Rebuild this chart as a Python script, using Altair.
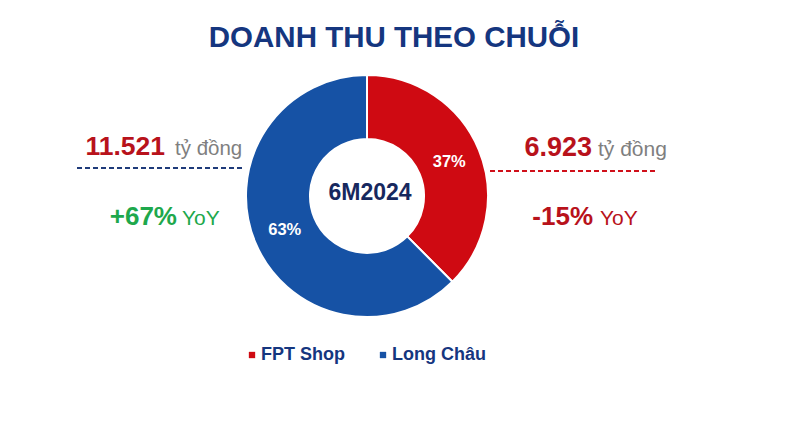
import altair as alt
import pandas as pd

# ---- data ----
chains = ["FPT Shop", "Long Châu"]
revenue = [6923, 11521]            # tỷ đồng, 6M2024
share_labels = ["37%", "63%"]
revenue_labels = ["6.923", "11.521"]
yoy_labels = ["-15%", "+67%"]
unit_label = "tỷ đồng"
yoy_suffix = "YoY"
period = "6M2024"
title_text = "DOANH THU THEO CHUỖI"
colors = ["#cf0a12", "#1652a5"]

FONT = "Liberation Sans"
NAVY = "#15367f"
RED = "#b8121b"
GREEN = "#1ea84c"
GRAY = "#7f7f7f"

df = pd.DataFrame({"chain": chains, "revenue": revenue,
                   "share": share_labels, "order": [0, 1]})

CX, CY = 359, 188

arcs = alt.Chart(df).mark_arc(
    innerRadius=57, outerRadius=121, stroke="white", strokeWidth=2
).encode(
    theta=alt.Theta("revenue:Q", stack=True),
    order=alt.Order("order:Q"),
    color=alt.Color(
        "chain:N",
        scale=alt.Scale(domain=chains, range=colors),
        legend=alt.Legend(
            orient="none", legendX=235, legendY=338, direction="horizontal",
            title=None, symbolType="square", symbolSize=40, symbolStrokeWidth=0,
            labelFont=FONT, labelFontSize=18, labelFontWeight="bold",
            labelColor=NAVY, labelOffset=0, columnPadding=29, padding=0,
        ),
    ),
    x=alt.value(CX), y=alt.value(CY),
)

pct = alt.Chart(df).mark_text(
    radius=89, font=FONT, fontSize=16.5, fontWeight="bold", color="white"
).encode(
    theta=alt.Theta("revenue:Q", stack=True),
    order=alt.Order("order:Q"),
    text="share:N",
    x=alt.value(CX), y=alt.value(CY),
)


def txt(s, x, y, size, color, weight="normal", align="left", baseline="alphabetic"):
    return alt.Chart(pd.DataFrame({"t": [s]})).mark_text(
        font=FONT, fontSize=size, fontWeight=weight, color=color,
        align=align, baseline=baseline,
    ).encode(text="t:N", x=alt.value(x), y=alt.value(y))


def dash(x1, x2, y, color):
    return alt.Chart(pd.DataFrame({"k": [0]})).mark_rule(
        color=color, strokeWidth=2, strokeDash=[5, 3]
    ).encode(x=alt.value(x1), x2=alt.value(x2), y=alt.value(y))


layers = [
    arcs, pct,
    txt(title_text, 386, 39, 29.5, NAVY, "bold", "center"),
    txt(period, 362, 185, 23, "#17285e", "bold", "center", "middle"),
    # left: Long Châu
    txt(revenue_labels[1], 157, 147, 26.5, RED, "bold", "right"),
    txt(unit_label, 167, 147, 20.5, GRAY),
    dash(69, 237, 160, "#1f3b7a"),
    txt(yoy_labels[1], 169, 217, 26, GREEN, "bold", "right"),
    txt(yoy_suffix, 174, 217, 21, GREEN),
    # right: FPT Shop
    txt(revenue_labels[0], 584, 148, 27, RED, "bold", "right"),
    txt(unit_label, 590, 148, 21, GRAY),
    dash(482, 649, 163, "#d0101a"),
    txt(yoy_labels[0], 585, 217, 26, RED, "bold", "right"),
    txt(yoy_suffix, 592, 217, 21, RED),
]

chart = alt.layer(*layers).properties(
    width=779, height=412,
    autosize=alt.AutoSizeParams(type="fit", contains="padding"),
    padding=0, background="white",
).configure_view(stroke=None)

chart.save("out.html", embed_options={"renderer": "svg", "actions": False})
